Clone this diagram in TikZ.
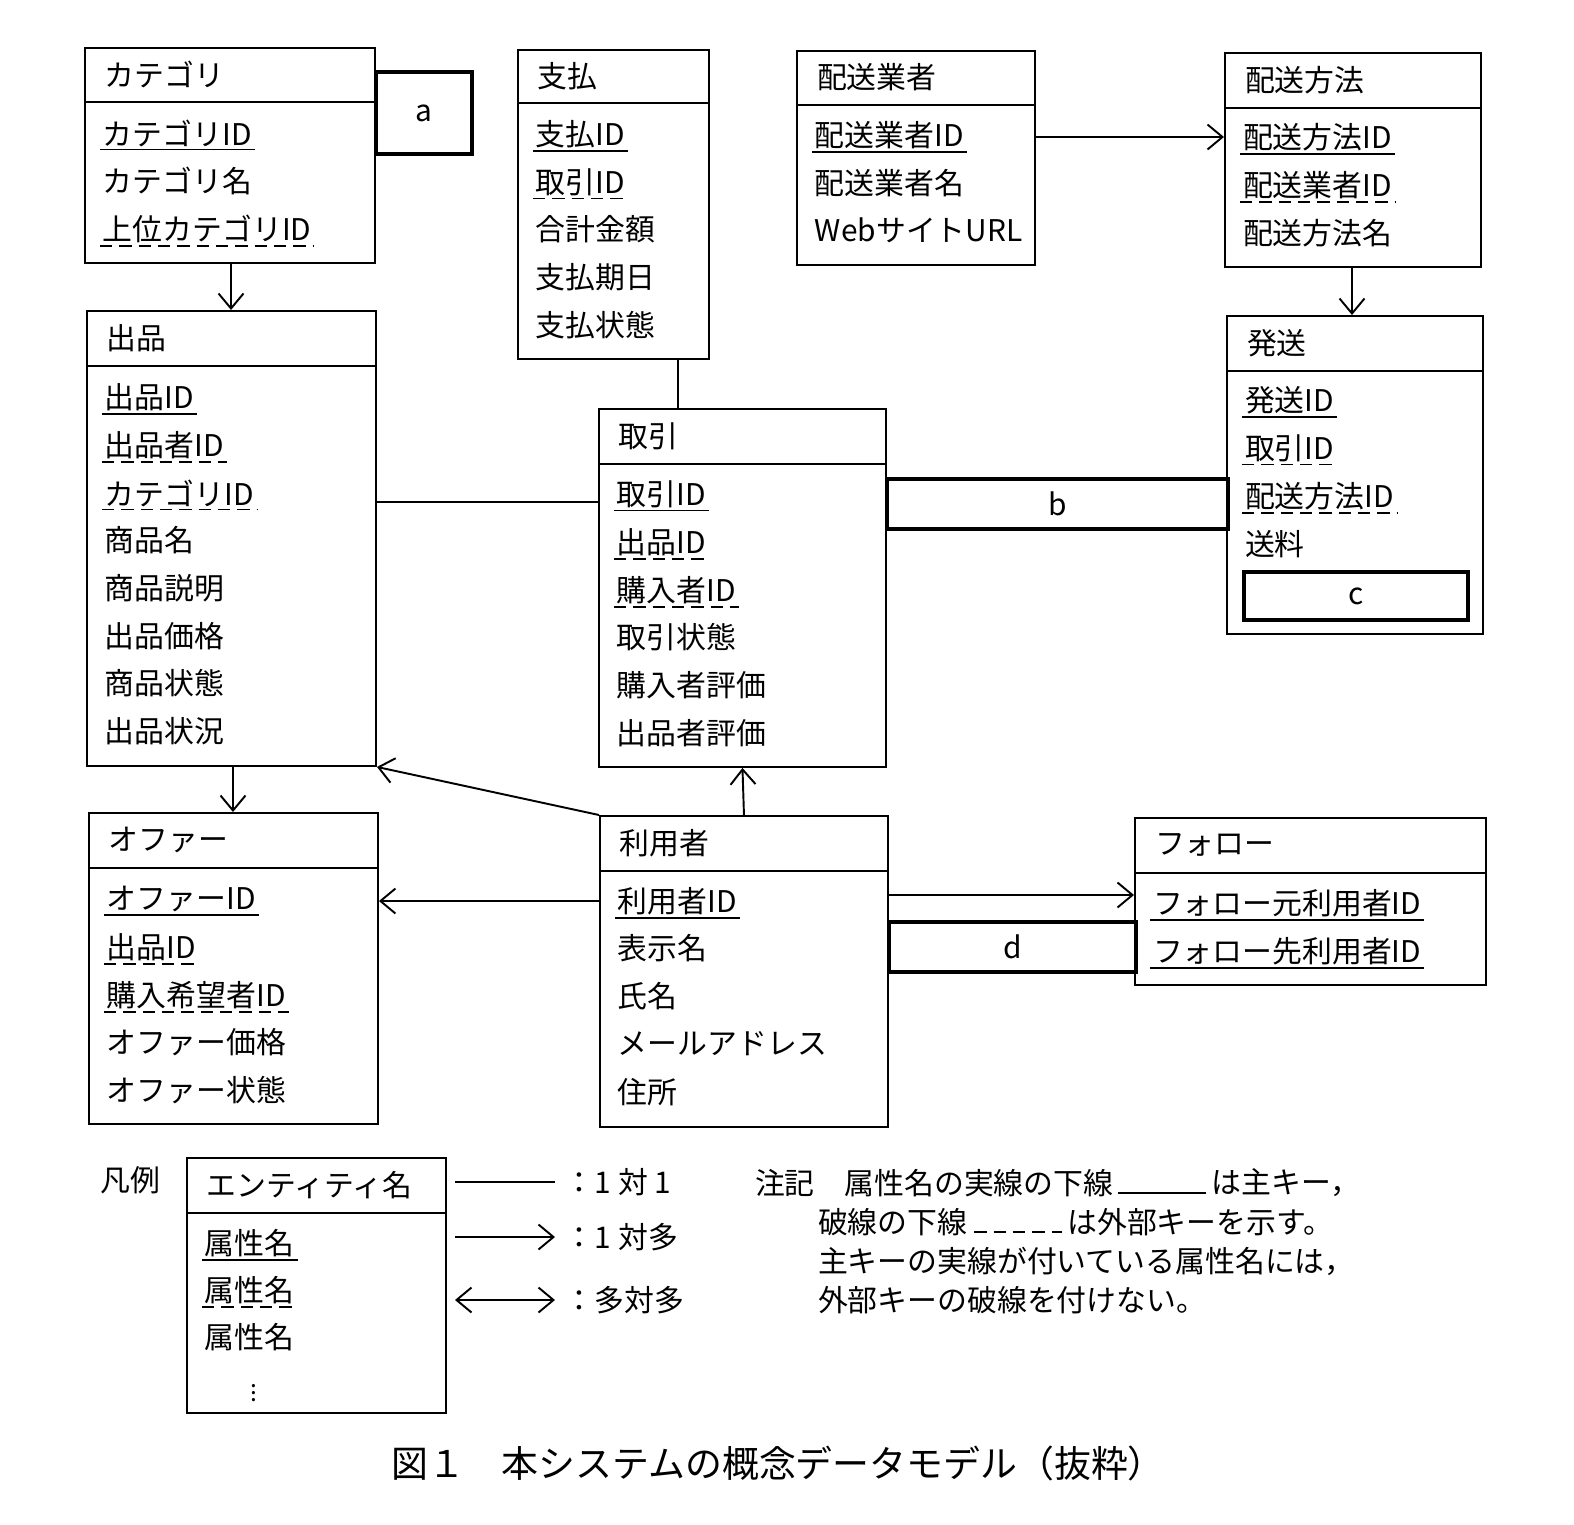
\documentclass[tikz,border=0pt]{standalone}
\usepackage{fontspec}
\setmainfont{Noto Sans CJK JP}
\usetikzlibrary{positioning,calc,arrows.meta}
\tikzset{
  box/.style={draw,line width=1.1pt,inner sep=0pt,anchor=north west},
  slot/.style={draw,line width=2.2pt,inner sep=0pt,anchor=north west,font=\fontsize{17}{20}\selectfont},
  attr/.style={anchor=west,inner sep=1.5pt,font=\fontsize{17}{20}\selectfont},
  pkline/.style={line width=1pt},
  fkline/.style={line width=1pt,dash pattern=on 7pt off 4pt},
  conn/.style={line width=1.1pt},
  >={Straight Barb[length=3mm,width=5mm,line width=1.1pt]},
}
% entity: name, x, y, w, h, header height, title
\newcommand\entity[7]{%
  \node[box,minimum width=#4*0.02cm,minimum height=#5*0.02cm] (#1) at (#2,#3) {};
  \draw[line width=1.1pt] ($(#1.north west)+(0,#6)$) -- ($(#1.north east)+(0,#6)$);
  \node[attr] (#1-t) at ($(#1.north west)+(18,#6/2)$) {#7};}
\newcommand\pk[4]{\node[attr] (#1) at (#2,#3) {#4};
  \draw[pkline] (#1.south west) -- (#1.south east);}
\newcommand\fk[4]{\node[attr] (#1) at (#2,#3) {#4};
  \draw[fkline] (#1.south west) -- (#1.south east);}
\newcommand\at[4]{\node[attr] (#1) at (#2,#3) {#4};}
\begin{document}
\begin{tikzpicture}[x=0.02cm,y=-0.02cm]
\useasboundingbox (0,0) rectangle (1574,1524);

% カテゴリ
\entity{cat}{84}{47}{290}{215}{55}{カテゴリ}
\pk{cat1}{100}{133}{カテゴリID}
\at{cat2}{100}{181}{カテゴリ名}
\fk{cat3}{100}{229}{上位カテゴリID}
\node[slot,minimum width=96*0.02cm,minimum height=82*0.02cm] (boxa) at (374,70) {a};

% 支払
\entity{pay}{517}{49}{191}{309}{54}{支払}
\pk{pay1}{533}{134}{支払ID}
\fk{pay2}{533}{182}{取引ID}
\at{pay3}{533}{229}{合計金額}
\at{pay4}{533}{277}{支払期日}
\at{pay5}{533}{325}{支払状態}

% 配送業者
\entity{carr}{796}{50}{238}{214}{55}{配送業者}
\pk{carr1}{812}{135}{配送業者ID}
\at{carr2}{812}{183}{配送業者名}
\at{carr3}{812}{230}{WebサイトURL}

% 配送方法
\entity{meth}{1224}{52}{256}{214}{56}{配送方法}
\pk{meth1}{1240}{137}{配送方法ID}
\fk{meth2}{1240}{185}{配送業者ID}
\at{meth3}{1240}{233}{配送方法名}

% 出品
\entity{item}{86}{310}{289}{455}{56}{出品}
\pk{item1}{102}{397}{出品ID}
\fk{item2}{102}{445}{出品者ID}
\fk{item3}{102}{493}{カテゴリID}
\at{item4}{102}{540}{商品名}
\at{item5}{102}{588}{商品説明}
\at{item6}{102}{636}{出品価格}
\at{item7}{102}{683}{商品状態}
\at{item8}{102}{731}{出品状況}

% 取引
\entity{trade}{598}{408}{287}{358}{56}{取引}
\pk{trade1}{614}{494}{取引ID}
\fk{trade2}{614}{542}{出品ID}
\fk{trade3}{614}{590}{購入者ID}
\at{trade4}{614}{637}{取引状態}
\at{trade5}{614}{685}{購入者評価}
\at{trade6}{614}{733}{出品者評価}

% 発送
\entity{ship}{1226}{315}{256}{318}{56}{発送}
\pk{ship1}{1242}{400}{発送ID}
\fk{ship2}{1242}{448}{取引ID}
\fk{ship3}{1242}{496}{配送方法ID}
\at{ship4}{1242}{544}{送料}
\node[slot,minimum width=224*0.02cm,minimum height=48*0.02cm] (boxc) at (1242,570) {c};
\node[slot,minimum width=341*0.02cm,minimum height=50*0.02cm] (boxb) at (885,477) {b};

% オファー
\entity{offer}{88}{812}{289}{311}{56}{オファー}
\pk{offer1}{104}{899}{オファーID}
\fk{offer2}{104}{947}{出品ID}
\fk{offer3}{104}{995}{購入希望者ID}
\at{offer4}{104}{1042}{オファー価格}
\at{offer5}{104}{1090}{オファー状態}

% 利用者
\entity{user}{599}{815}{288}{311}{56}{利用者}
\pk{user1}{615}{901}{利用者ID}
\at{user2}{615}{948}{表示名}
\at{user3}{615}{996}{氏名}
\at{user4}{615}{1044}{メールアドレス}
\at{user5}{615}{1092}{住所}

% フォロー
\entity{follow}{1134}{817}{351}{167}{56}{フォロー}
\pk{follow1}{1150}{903}{フォロー元利用者ID}
\pk{follow2}{1150}{951}{フォロー先利用者ID}
\node[slot,minimum width=247*0.02cm,minimum height=50*0.02cm] (boxd) at (887,920) {d};

% connectors
\coordinate (ci) at (231,262);
\draw[conn,->] (ci) -- (ci |- item.north);
\coordinate (pt) at (678,358);
\draw[conn] (pt) -- (pt |- trade.north);
\coordinate (cm) at (1034,137);
\draw[conn,->] (cm) -- (cm -| meth.west);
\coordinate (ms) at (1352,266);
\draw[conn,->] (ms) -- (ms |- ship.north);
\coordinate (it) at (375,502);
\draw[conn] (it) -- (it -| trade.west);
\coordinate (io) at (233,765);
\draw[conn,->] (io) -- (io |- offer.north);
\draw[conn,->] (user.north west) -- (item.south east);
\draw[conn,->] (user.north) -- (trade.south);
\coordinate (uo) at (599,901);
\draw[conn,->] (uo) -- (uo -| offer.east);
\coordinate (uf) at (887,895);
\draw[conn,->] (uf) -- (uf -| follow.west);

% 凡例
\node[attr] (leg) at (98,1180) {凡例};
\entity{lent}{186}{1157}{259}{255}{56}{エンティティ名}
\pk{lent1}{202}{1243}{属性名}
\fk{lent2}{202}{1290}{属性名}
\at{lent3}{202}{1337}{属性名}
\node[inner sep=0pt,font=\fontsize{14}{14}\selectfont] (lent4) at (254,1388) {\vdots};
\coordinate (l1a) at (455,1182); \coordinate (l1b) at (555,1182);
\draw[conn] (l1a) -- (l1b);
\node[attr] (l1) at (562,1182) {：1 対 1};
\coordinate (l2a) at (455,1237); \coordinate (l2b) at (555,1237);
\draw[conn,->] (l2a) -- (l2b);
\node[attr] (l2) at (562,1237) {：1 対多};
\coordinate (l3a) at (455,1300); \coordinate (l3b) at (555,1300);
\draw[conn,<->] (l3a) -- (l3b);
\node[attr] (l3) at (562,1300) {：多対多};

% 注記
\node[attr] (n1) at (752,1183) {注記　属性名の実線の下線};
\coordinate (n1s) at ($(n1.east)+(2,10)$);
\draw[pkline] (n1s) -- ++(88,0);
\node[attr] (n1b) at ($(n1.east)+(92,0)$) {は主キー，};
\node[attr] (n2) at (815,1222) {破線の下線};
\coordinate (n2s) at ($(n2.east)+(4,10)$);
\draw[fkline,line width=1.4pt] (n2s) -- ++(88,0);
\node[attr] (n2b) at ($(n2.east)+(94,0)$) {は外部キーを示す。};
\node[attr] (n3) at (815,1261) {主キーの実線が付いている属性名には，};
\node[attr] (n4) at (815,1300) {外部キーの破線を付けない。};

\node[font=\fontsize{21}{24}\selectfont] (cap) at (778,1463) {図１　本システムの概念データモデル（抜粋）};
\end{tikzpicture}
\end{document}
